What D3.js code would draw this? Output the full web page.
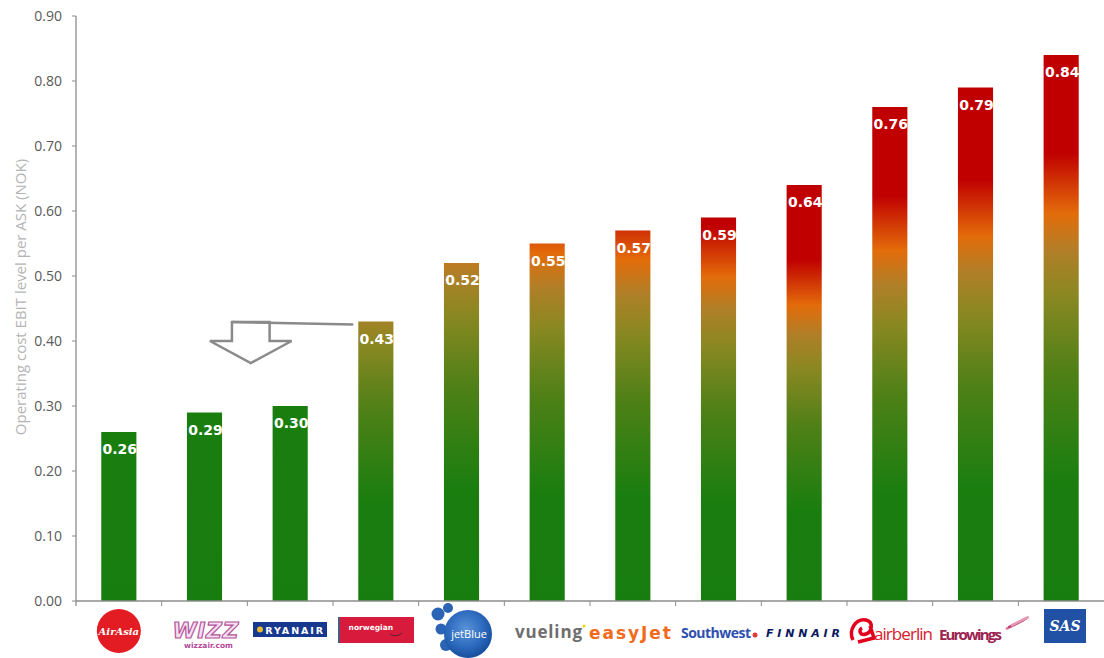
<!DOCTYPE html>
<html>
<head>
    <meta charset="utf-8">
    <title>Operating cost EBIT level per ASK</title>
    <script src="https://d3js.org/d3.v7.min.js"></script>
    <style>
        body, html {
            margin: 0;
            padding: 0;
            background: #fff;
        }
        .tick-label {
            font-family: 'Open Sans', sans-serif;
            font-size: 14px;
            fill: #595959;
        }
        .bar-label {
            font-family: 'DejaVu Sans', sans-serif;
            font-size: 14px;
            font-weight: bold;
            fill: #fff;
            text-anchor: middle;
        }
    </style>
</head>
<body>
<script>
    // data
    const airlines = ["AirAsia", "Wizz Air", "Ryanair", "Norwegian", "jetBlue", "Vueling",
                      "easyJet", "Southwest", "Finnair", "airberlin", "Eurowings", "SAS"];
    const costPerAsk = [0.26, 0.29, 0.30, 0.43, 0.52, 0.55, 0.57, 0.59, 0.64, 0.76, 0.79, 0.84];
    const yTicks = [0, 0.1, 0.2, 0.3, 0.4, 0.5, 0.6, 0.7, 0.8, 0.9];
    const yTitle = "Operating cost EBIT level per ASK (NOK)";

    const width = 1104, height = 658;
    const plotLeft = 76, plotRight = 1104, plotTop = 16, plotBottom = 601;

    const svg = d3.select("body").append("svg")
        .attr("width", width)
        .attr("height", height);

    const x = d3.scaleBand()
        .domain(airlines)
        .range([plotLeft, plotRight])
        .paddingInner(0.59)
        .paddingOuter(0.295);

    const y = d3.scaleLinear()
        .domain([0, 0.9])
        .range([plotBottom, plotTop]);

    // green -> olive -> orange -> red, bottom to top
    const gradStops = [
        [0, "#177d0e"], [0.22, "#1a7e0f"], [0.42, "#4f8017"], [0.56, "#8a8822"],
        [0.64, "#b07f28"], [0.71, "#e36c0a"], [0.82, "#c00000"], [1, "#c00000"]
    ];
    const colorAt = d3.scaleLinear()
        .domain(gradStops.map(d => d[0]))
        .range(gradStops.map(d => d[1]))
        .interpolate(d3.interpolateRgb);
    // how far up the colour ramp each bar reaches (shorter bars stop earlier)
    const topFrac = d3.scaleLinear()
        .domain([0.30, 0.36, 0.43, 0.52, 0.55, 0.57, 0.59, 0.64])
        .range([0.2, 0.45, 0.61, 0.66, 0.73, 0.77, 0.84, 1.0])
        .clamp(true);

    const defs = svg.append("defs");
    airlines.forEach((a, i) => {
        const t = topFrac(costPerAsk[i]);
        const g = defs.append("linearGradient")
            .attr("id", "grad" + i)
            .attr("x1", 0).attr("y1", 1).attr("x2", 0).attr("y2", 0);
        gradStops.filter(s => s[0] < t).forEach(s => {
            g.append("stop").attr("offset", s[0] / t).attr("stop-color", s[1]);
        });
        g.append("stop").attr("offset", 1).attr("stop-color", colorAt(t));
    });

    const jbGrad = defs.append("radialGradient").attr("id", "jetblue")
        .attr("cx", 0.45).attr("cy", 0.4).attr("r", 0.6);
    jbGrad.append("stop").attr("offset", 0).attr("stop-color", "#5a93d8");
    jbGrad.append("stop").attr("offset", 0.6).attr("stop-color", "#2f6cbf");
    jbGrad.append("stop").attr("offset", 1).attr("stop-color", "#164f9e");

    // bars
    svg.append("g")
        .selectAll("rect")
        .data(costPerAsk)
        .join("rect")
            .attr("x", (d, i) => x(airlines[i]))
            .attr("y", d => y(d))
            .attr("width", x.bandwidth())
            .attr("height", d => y(0) - y(d))
            .attr("fill", (d, i) => `url(#grad${i})`);

    svg.append("g")
        .selectAll("text")
        .data(costPerAsk)
        .join("text")
            .attr("class", "bar-label")
            .attr("x", (d, i) => x(airlines[i]) + x.bandwidth() / 2 + 1)
            .attr("y", d => y(d) + 22)
            .text(d => d3.format(".2f")(d));

    // y axis
    const yAxis = svg.append("g");
    yAxis.append("line")
        .attr("x1", plotLeft).attr("x2", plotLeft)
        .attr("y1", y(0.9)).attr("y2", y(0) + 5)
        .attr("stroke", "#8c8c8c").attr("stroke-width", 1.3);
    yAxis.selectAll(".yt")
        .data(yTicks)
        .join("line")
            .attr("class", "yt")
            .attr("x1", plotLeft - 4).attr("x2", plotLeft)
            .attr("y1", d => y(d)).attr("y2", d => y(d))
            .attr("stroke", "#8c8c8c");
    yAxis.selectAll("text")
        .data(yTicks)
        .join("text")
            .attr("class", "tick-label")
            .attr("x", 62)
            .attr("y", d => y(d) + 5)
            .attr("text-anchor", "end")
            .text(d => d3.format(".2f")(d));

    svg.append("text")
        .attr("transform", "translate(26,297) rotate(-90)")
        .attr("text-anchor", "middle")
        .attr("font-family", "'Open Sans', sans-serif")
        .attr("font-size", 15)
        .attr("fill", "#b4b4b4")
        .text(yTitle);

    // x axis
    const xAxis = svg.append("g");
    xAxis.append("line")
        .attr("x1", plotLeft).attr("x2", plotRight)
        .attr("y1", plotBottom).attr("y2", plotBottom)
        .attr("stroke", "#8c8c8c").attr("stroke-width", 1.3);
    xAxis.selectAll("line.xt")
        .data(d3.range(1, airlines.length))
        .join("line")
            .attr("class", "xt")
            .attr("x1", i => plotLeft + i * x.step()).attr("x2", i => plotLeft + i * x.step())
            .attr("y1", plotBottom).attr("y2", plotBottom + 5)
            .attr("stroke", "#8c8c8c");

    // arrow annotation (from Norwegian down towards the low-cost group)
    const shaftL = x(airlines[1]) + 45, shaftR = x(airlines[2]) - 3;
    const headL = x(airlines[1]) + 23, headR = x(airlines[2]) + 19;
    const aTop = y(0.43) + 0.5, aMid = y(0.4), aTip = y(0.366);
    const tipX = (headL + headR) / 2;
    svg.append("path")
        .attr("d", `M${shaftL},${aMid} L${shaftL},${aTop} L${shaftR},${aTop} L${shaftR},${aMid}
                    L${headR},${aMid} L${tipX},${aTip} L${headL},${aMid} Z`)
        .attr("fill", "none")
        .attr("stroke", "#8a8a8a")
        .attr("stroke-width", 2.5)
        .attr("stroke-linejoin", "miter");
    svg.append("line")
        .attr("x1", shaftL).attr("y1", aTop)
        .attr("x2", x(airlines[3]) - 5).attr("y2", aTop + 2.5)
        .attr("stroke", "#8a8a8a")
        .attr("stroke-width", 2.5);

    // airline logos, drawn roughly under each bar
    const logos = svg.append("g");
    const cx = i => x(airlines[i]) + x.bandwidth() / 2;

    // AirAsia
    logos.append("circle").attr("cx", cx(0)).attr("cy", 631).attr("r", 22).attr("fill", "#e31b23");
    logos.append("text").attr("x", cx(0)).attr("y", 635).attr("text-anchor", "middle")
        .attr("font-family", "'DejaVu Serif', serif").attr("font-style", "italic").attr("font-weight", "bold")
        .attr("font-size", 10).attr("fill", "#fff").text("AirAsia");

    // Wizz
    logos.append("text").attr("x", cx(1) + 1).attr("y", 638).attr("text-anchor", "middle")
        .attr("font-family", "'DejaVu Sans', sans-serif").attr("font-weight", "bold").attr("font-style", "italic")
        .attr("font-size", 22).attr("fill", "#f5dff0").attr("stroke", "#b4549a").attr("stroke-width", 1.2)
        .attr("textLength", 66).text("WIZZ");
    logos.append("text").attr("x", cx(1) + 4).attr("y", 648).attr("text-anchor", "middle")
        .attr("font-family", "'DejaVu Sans', sans-serif").attr("font-weight", "bold")
        .attr("font-size", 7.5).attr("fill", "#b4489a").text("wizzair.com");

    // Ryanair
    logos.append("rect").attr("x", 253).attr("y", 622).attr("width", 74).attr("height", 15).attr("fill", "#16388e");
    logos.append("circle").attr("cx", 260).attr("cy", 629.5).attr("r", 3).attr("fill", "#e8b92f");
    logos.append("text").attr("x", cx(2) + 4).attr("y", 633.5).attr("text-anchor", "middle")
        .attr("font-family", "'DejaVu Sans', sans-serif").attr("font-weight", "bold")
        .attr("font-size", 9.5).attr("fill", "#fff").attr("textLength", 58).text("RYANAIR");

    // Norwegian
    logos.append("rect").attr("x", 338).attr("y", 617).attr("width", 76).attr("height", 26).attr("fill", "#d81b3c");
    logos.append("rect").attr("x", 338).attr("y", 617).attr("width", 2).attr("height", 26).attr("fill", "#4a5a7a");
    logos.append("text").attr("x", cx(3) - 5).attr("y", 630).attr("text-anchor", "middle")
        .attr("font-family", "'DejaVu Sans', sans-serif").attr("font-weight", "bold")
        .attr("font-size", 7.5).attr("fill", "#fff").text("norwegian");
    logos.append("path").attr("d", "M390,634 Q396,638 402,633").attr("fill", "none")
        .attr("stroke", "#5a2030").attr("stroke-width", 1);

    // jetBlue
    [[438, 614, 6.5], [448, 608, 5], [441, 629, 5.5], [446, 645, 6]].forEach(c => {
        logos.append("circle").attr("cx", c[0]).attr("cy", c[1]).attr("r", c[2]).attr("fill", "#2b63b5");
    });
    logos.append("circle").attr("cx", 468).attr("cy", 634).attr("r", 24).attr("fill", "url(#jetblue)");
    logos.append("text").attr("x", 469).attr("y", 638).attr("text-anchor", "middle")
        .attr("font-family", "'Open Sans', sans-serif").attr("font-size", 11).attr("fill", "#fff").text("jetBlue");

    // vueling
    logos.append("text").attr("x", 515).attr("y", 638)
        .attr("font-family", "'Open Sans', sans-serif").attr("font-weight", "bold")
        .attr("font-size", 17).attr("fill", "#6e6e6e").attr("textLength", 67).text("vueling");
    logos.append("circle").attr("cx", 584).attr("cy", 626).attr("r", 1.5).attr("fill", "#f2d200");

    // easyJet
    logos.append("text").attr("x", 589).attr("y", 639)
        .attr("font-family", "'DejaVu Sans', sans-serif").attr("font-weight", "bold")
        .attr("font-size", 17).attr("fill", "#f26a1b").attr("textLength", 82).text("easyJet");

    // Southwest
    logos.append("text").attr("x", 681).attr("y", 638)
        .attr("font-family", "'Open Sans', sans-serif").attr("font-weight", "bold")
        .attr("font-size", 14).attr("fill", "#2f4fb0").attr("textLength", 70).text("Southwest");
    logos.append("circle").attr("cx", 755).attr("cy", 635).attr("r", 2.5).attr("fill", "#e23b3b");

    // Finnair
    logos.append("text").attr("x", 766).attr("y", 637)
        .attr("font-family", "'DejaVu Sans', sans-serif").attr("font-weight", "bold").attr("font-style", "italic")
        .attr("font-size", 11).attr("fill", "#0b1a5e").attr("textLength", 74).text("FINNAIR");

    // airberlin
    logos.append("path")
        .attr("d", "M853,640 C848,630 856,618 866,620 C874,622 872,632 866,634 C860,636 858,630 862,628 M858,642 L874,638 L870,626")
        .attr("fill", "none").attr("stroke", "#e2001a").attr("stroke-width", 3.5);
    logos.append("text").attr("x", 874).attr("y", 640)
        .attr("font-family", "'Open Sans', sans-serif")
        .attr("font-size", 17).attr("fill", "#d6202c").attr("textLength", 59).text("airberlin");

    // Eurowings
    logos.append("text").attr("x", 939).attr("y", 640)
        .attr("font-family", "'Open Sans', sans-serif").attr("font-weight", "bold")
        .attr("font-size", 15).attr("fill", "#9c2350").attr("textLength", 63).text("Eurowings");
    [[0, "#e0708c"], [4, "#b5407c"], [8, "#e59ab0"]].forEach(s => {
        logos.append("line")
            .attr("x1", 1006 + s[0] * 0.6).attr("y1", 629 - s[0] * 0.4)
            .attr("x2", 1024 + s[0] * 0.6).attr("y2", 620 - s[0] * 0.4)
            .attr("stroke", s[1]).attr("stroke-width", 2.5);
    });

    // SAS
    logos.append("rect").attr("x", 1044).attr("y", 609).attr("width", 42).attr("height", 34).attr("fill", "#2051a5");
    logos.append("text").attr("x", 1065).attr("y", 631).attr("text-anchor", "middle")
        .attr("font-family", "'DejaVu Serif', serif").attr("font-weight", "bold").attr("font-style", "italic")
        .attr("font-size", 14).attr("fill", "#fff").text("SAS");
</script>
</body>
</html>
